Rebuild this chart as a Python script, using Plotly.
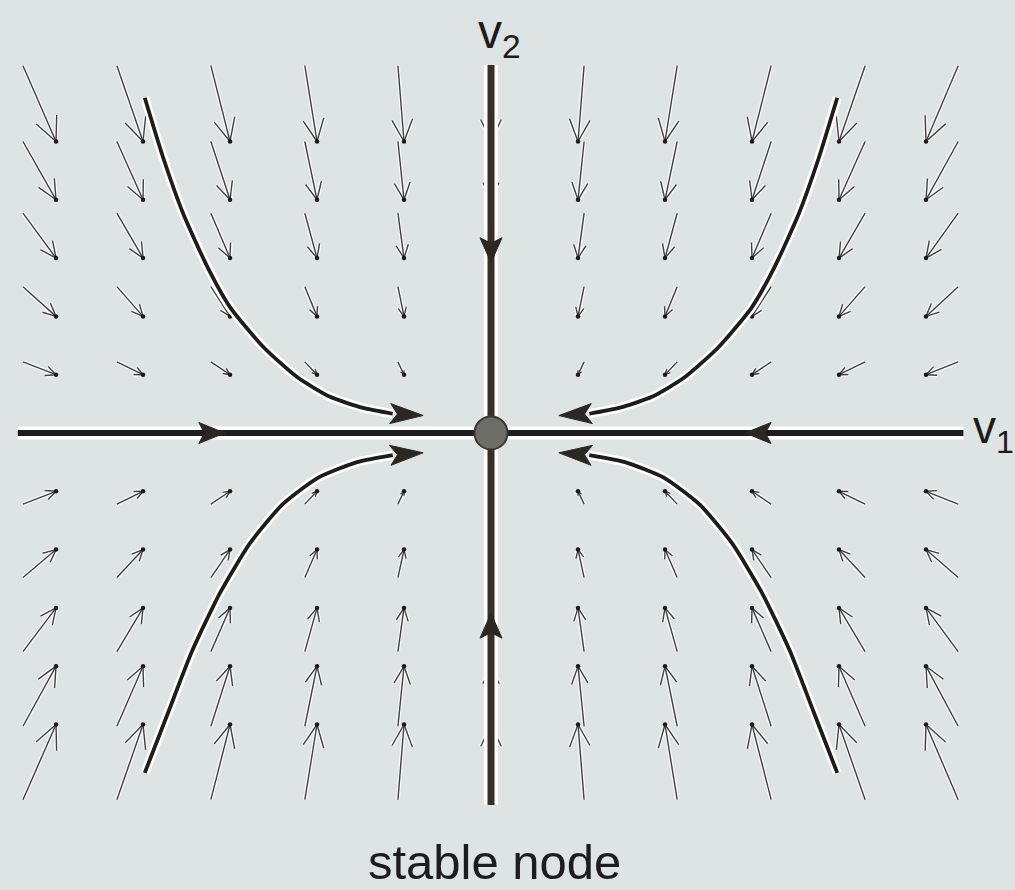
import math
import plotly.graph_objects as go

# ---- direction field samples: arrow heads sit on the grid points ----
col_x = [-5, -4, -3, -2, -1, 0, 1, 2, 3, 4, 5]
col_u = [0.38, 0.30, 0.22, 0.14, 0.07, 0.0, -0.07, -0.14, -0.22, -0.30, -0.37]
row_y = [5, 4, 3, 2, 1, 0, -1, -2, -3, -4, -5]
row_v = [-1.30, -1.00, -0.77, -0.51, -0.22, 0.0, 0.22, 0.48, 0.75, 1.03, 1.29]

# ---- eigen-direction lines ----
v1_x = [-5.44, 5.43]          # horizontal line, y = 0
v2_y = [6.31, -6.38]          # vertical line, x = 0
v1_head_x = [-3.06, 2.92]     # arrow tips on v1
v1_head_dir = [1, -1]
v2_head_y = [2.92, -3.09]     # arrow tips on v2
v2_head_dir = [-1, 1]

# ---- trajectories (left half, right half mirrored) ----
traj_upper_x = [-3.98, -3.77, -3.54, -3.26, -3.00, -2.62, -2.23, -1.85, -1.47, -1.13, -0.78]
traj_upper_y = [5.75, 4.73, 3.77, 2.85, 2.16, 1.48, 0.96, 0.62, 0.43, 0.33, 0.30]
traj_lower_x = [-3.98, -3.71, -3.43, -3.11, -2.77, -2.40, -1.99, -1.54, -1.13, -0.78]
traj_lower_y = [-5.83, -4.79, -3.72, -2.73, -1.89, -1.23, -0.77, -0.50, -0.38, -0.34]

# ---- canvas ----
W, H = 1015, 890
X_RANGE = [-5.644, 6.023]
Y_RANGE = [-7.839, 7.427]
SX = W / (X_RANGE[1] - X_RANGE[0])   # pixels per x unit
SY = H / (Y_RANGE[1] - Y_RANGE[0])   # pixels per y unit

BG = "#dee4e4"
FIELD = "#404040"
DARK = "#1f1d1a"
V2C = "#3a2f26"
FONT = "Liberation Sans, Arial, Helvetica, sans-serif"


def to_px(x, y):
    return x * SX, y * SY


def to_data(px, py):
    return px / SX, py / SY


def head_polygon(tx, ty, dxp, dyp, length, width, notch=0.78):
    """Filled arrowhead with its tip at (tx, ty) pointing along pixel direction (dxp, dyp)."""
    n = math.hypot(dxp, dyp)
    ux, uy = dxp / n, dyp / n
    px_, py_ = -uy, ux
    tpx, tpy = to_px(tx, ty)
    pts = [
        (tpx, tpy),
        (tpx - ux * length + px_ * width / 2, tpy - uy * length + py_ * width / 2),
        (tpx - ux * length * notch, tpy - uy * length * notch),
        (tpx - ux * length - px_ * width / 2, tpy - uy * length - py_ * width / 2),
        (tpx, tpy),
    ]
    xs, ys = [], []
    for a, b in pts:
        dx_, dy_ = to_data(a, b)
        xs.append(dx_)
        ys.append(dy_)
    return xs, ys


fig = go.Figure()

# ---- direction field ----
fx, fy, tipx, tipy = [], [], [], []
ang = math.radians(25)
for j, yv in enumerate(row_y):
    for i, xv in enumerate(col_x):
        u, v = col_u[i], row_v[j]
        if u == 0 and v == 0:
            continue
        hx, hy = xv, yv
        tx, ty = xv - u, yv - v
        # shaft
        fx += [tx, hx, None]
        fy += [ty, hy, None]
        # barbs, built in pixel space
        dpx, dpy = u * SX, v * SY
        L = math.hypot(dpx, dpy)
        bl = max(0.32 * L, 4.0)
        bx, by = -dpx / L, -dpy / L
        hpx, hpy = to_px(hx, hy)
        for s in (1, -1):
            c, sn = math.cos(s * ang), math.sin(s * ang)
            rx, ry = bx * c - by * sn, bx * sn + by * c
            ex, ey = to_data(hpx + rx * bl, hpy + ry * bl)
            fx += [hx, ex, None]
            fy += [hy, ey, None]
        tipx.append(hx)
        tipy.append(hy)

fig.add_trace(go.Scatter(x=fx, y=fy, mode="lines",
                         line=dict(color="rgba(255,255,255,0.75)", width=4),
                         hoverinfo="skip", showlegend=False))
fig.add_trace(go.Scatter(x=fx, y=fy, mode="lines",
                         line=dict(color=FIELD, width=1.4),
                         hoverinfo="skip", showlegend=False))
fig.add_trace(go.Scatter(x=tipx, y=tipy, mode="markers",
                         marker=dict(color="#1a1a1a", size=4.5),
                         hoverinfo="skip", showlegend=False))

# ---- eigen lines with white halo ----
fig.add_trace(go.Scatter(x=v1_x, y=[0, 0], mode="lines",
                         line=dict(color="white", width=13),
                         hoverinfo="skip", showlegend=False))
fig.add_trace(go.Scatter(x=[0, 0], y=v2_y, mode="lines",
                         line=dict(color="white", width=14),
                         hoverinfo="skip", showlegend=False))
fig.add_trace(go.Scatter(x=v1_x, y=[0, 0], mode="lines",
                         line=dict(color=DARK, width=6),
                         hoverinfo="skip", showlegend=False))
fig.add_trace(go.Scatter(x=[0, 0], y=v2_y, mode="lines",
                         line=dict(color=V2C, width=7),
                         hoverinfo="skip", showlegend=False))

# ---- trajectories ----
curves = [
    (traj_upper_x, traj_upper_y),
    (traj_lower_x, traj_lower_y),
    ([-x for x in traj_upper_x], traj_upper_y),
    ([-x for x in traj_lower_x], traj_lower_y),
]
hx_all, hy_all = [], []
for cx, cy in curves:
    fig.add_trace(go.Scatter(x=cx[:-1], y=cy[:-1], mode="lines",
                             line=dict(color="white", width=9, shape="spline", smoothing=0.6),
                             hoverinfo="skip", showlegend=False))
    fig.add_trace(go.Scatter(x=cx[:-1], y=cy[:-1], mode="lines",
                             line=dict(color=DARK, width=3.8, shape="spline", smoothing=0.6),
                             hoverinfo="skip", showlegend=False))
    dxp = (cx[-1] - cx[-2]) * SX
    dyp = (cy[-1] - cy[-2]) * SY
    px_, py_ = head_polygon(cx[-1], cy[-1], dxp, dyp, 33, 20)
    hx_all += px_ + [None]
    hy_all += py_ + [None]

for xv, d in zip(v1_head_x, v1_head_dir):
    px_, py_ = head_polygon(xv, 0, d, 0, 26, 21)
    hx_all += px_ + [None]
    hy_all += py_ + [None]
for yv, d in zip(v2_head_y, v2_head_dir):
    px_, py_ = head_polygon(0, yv, 0, d, 25, 22)
    hx_all += px_ + [None]
    hy_all += py_ + [None]

fig.add_trace(go.Scatter(x=hx_all, y=hy_all, mode="lines", fill="toself",
                         fillcolor="#2b2824", line=dict(color="#2b2824", width=1),
                         hoverinfo="skip", showlegend=False))

# ---- fixed point ----
fig.add_trace(go.Scatter(x=[0], y=[0], mode="markers",
                         marker=dict(size=33, color="#6f6d68",
                                     line=dict(color="#3a3834", width=2)),
                         hoverinfo="skip", showlegend=False))

# ---- labels ----
fig.add_annotation(x=-0.17, y=6.82, xref="x", yref="y", text="v<sub>2</sub>",
                   showarrow=False, xanchor="left", yanchor="middle",
                   font=dict(family=FONT, size=48, color="#1c1c1c"))
fig.add_annotation(x=5.52, y=0.05, xref="x", yref="y", text="v<sub>1</sub>",
                   showarrow=False, xanchor="left", yanchor="middle",
                   font=dict(family=FONT, size=46, color="#1c1c1c"))
fig.add_annotation(x=0.04, y=-7.36, xref="x", yref="y", text="stable node",
                   showarrow=False, xanchor="center", yanchor="middle",
                   font=dict(family=FONT, size=49, color="#1c1c1c"))

fig.update_layout(
    width=W, height=H,
    margin=dict(l=0, r=0, t=0, b=0),
    paper_bgcolor=BG, plot_bgcolor=BG,
    xaxis=dict(range=X_RANGE, visible=False, fixedrange=True),
    yaxis=dict(range=Y_RANGE, visible=False, fixedrange=True),
    showlegend=False,
)

fig.write_html("out.html")
